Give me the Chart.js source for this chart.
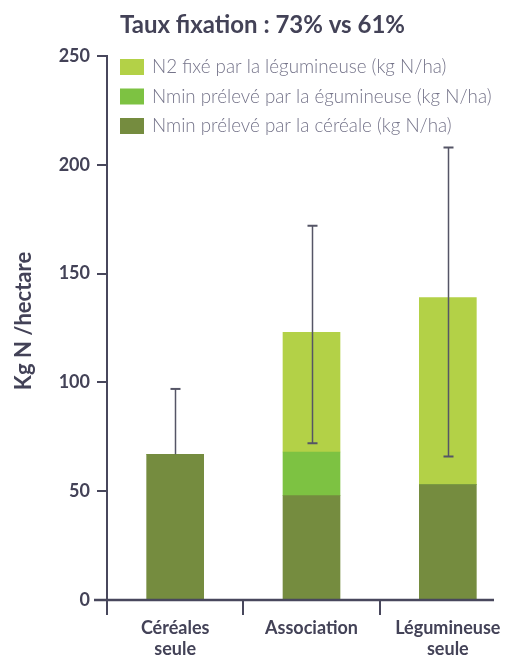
<!DOCTYPE html>
<html>
<head>
<meta charset="utf-8">
<script src="https://cdn.jsdelivr.net/npm/chart.js@4.4.1/dist/chart.umd.min.js"></script>
<style>
    html, body { margin: 0; padding: 0; overflow: hidden; background: #ffffff; }
    #wrap { width: 516px; height: 657px; position: relative; }
</style>
</head>
<body>
<div id="wrap"><canvas id="chart"></canvas></div>
<script>
// Data
const categories = [['Céréales', 'seule'], 'Association', ['Légumineuse', 'seule']];
const nminCereale = [67, 48, 53];
const nminLegumineuse = [0, 20, 0];
const n2Fixe = [0, 55, 86];
const errHigh = [97, 172, 208];
const errLow = [null, 72, 66];
const yTicks = [0, 50, 100, 150, 200, 250];
const seriesLabels = [
    'Nmin prélevé par la céréale (kg N/ha)',
    'Nmin prélevé par la égumineuse (kg N/ha)',
    'N2 fixé par la légumineuse (kg N/ha)'
];
const titleText = 'Taux fixation : 73% vs 61%';
const yTitle = 'Kg N /hectare';

// Colors
const colors = {
    dark: '#758c3f',
    mid: '#7dc242',
    light: '#b3d147',
    axis: '#48475c',
    text: '#434257',
    legendText: '#75748a',
    err: '#555566'
};
const fontFamily = 'Lato, "Open Sans", sans-serif';

// Custom drawing: error bars, title, axis title, legend
const customDraw = {
    id: 'customDraw',
    afterDatasetsDraw(chart) {
        const ctx = chart.ctx;
        const x = chart.scales.x;
        const y = chart.scales.y;
        ctx.save();
        ctx.strokeStyle = colors.err;
        errHigh.forEach((hi, i) => {
            const total = nminCereale[i] + nminLegumineuse[i] + n2Fixe[i];
            const cx = Math.round(x.getPixelForValue(i)) + 0.5;
            const yHi = y.getPixelForValue(hi);
            const yLo = y.getPixelForValue(errLow[i] !== null ? errLow[i] : total);
            ctx.lineWidth = 1.5;
            ctx.beginPath();
            ctx.moveTo(cx, yLo);
            ctx.lineTo(cx, yHi);
            ctx.stroke();
            ctx.lineWidth = 2;
            ctx.beginPath();
            ctx.moveTo(cx - 5, yHi);
            ctx.lineTo(cx + 5, yHi);
            if (errLow[i] !== null) {
                ctx.moveTo(cx - 5, yLo);
                ctx.lineTo(cx + 5, yLo);
            }
            ctx.stroke();
        });
        ctx.restore();
    },
    afterDraw(chart) {
        const ctx = chart.ctx;
        const area = chart.chartArea;
        ctx.save();

        // x axis line
        ctx.strokeStyle = colors.axis;
        ctx.lineWidth = 2.5;
        ctx.beginPath();
        ctx.moveTo(94, area.bottom);
        ctx.lineTo(494, area.bottom);
        ctx.stroke();

        // title
        ctx.fillStyle = colors.text;
        ctx.font = 'bold 24px ' + fontFamily;
        ctx.textAlign = 'left';
        ctx.textBaseline = 'alphabetic';
        ctx.fillText(titleText, 120, 33);

        // y axis title
        ctx.save();
        ctx.translate(24, 321);
        ctx.rotate(-Math.PI / 2);
        ctx.font = 'bold 22px ' + fontFamily;
        ctx.textAlign = 'center';
        ctx.textBaseline = 'middle';
        ctx.fillText(yTitle, 0, 0);
        ctx.restore();

        // legend (reverse order, top = last dataset)
        const legendColors = [colors.dark, colors.mid, colors.light];
        ctx.font = '300 18.8px ' + fontFamily;
        ctx.textBaseline = 'middle';
        for (let k = 0; k < 3; k++) {
            const idx = 2 - k;
            const top = 59 + k * 29.5;
            ctx.fillStyle = legendColors[idx];
            ctx.fillRect(120, top, 24, 16);
            ctx.fillStyle = colors.legendText;
            ctx.fillText(seriesLabels[idx], 152, top + 8);
        }
        ctx.restore();
    }
};

new Chart(document.getElementById('chart'), {
    type: 'bar',
    data: {
        labels: categories,
        datasets: [
            { label: seriesLabels[0], data: nminCereale, backgroundColor: colors.dark },
            { label: seriesLabels[1], data: nminLegumineuse, backgroundColor: colors.mid },
            { label: seriesLabels[2], data: n2Fixe, backgroundColor: colors.light }
        ]
    },
    options: {
        responsive: true,
        maintainAspectRatio: false,
        animation: false,
        layout: { padding: { top: 56, left: 0, right: 0, bottom: 0 } },
        datasets: { bar: { barThickness: 57, borderWidth: 0 } },
        plugins: {
            legend: { display: false },
            title: { display: false },
            tooltip: { enabled: false }
        },
        scales: {
            x: {
                stacked: true,
                afterFit(scale) { scale.height = 57; },
                border: { display: false },
                grid: {
                    offset: true,
                    drawOnChartArea: false,
                    drawTicks: true,
                    tickLength: 15,
                    color: colors.axis,
                    lineWidth: 2
                },
                ticks: {
                    color: colors.text,
                    padding: 2,
                    font: { family: fontFamily, size: 18, weight: 'bold', lineHeight: 1.2 }
                }
            },
            y: {
                stacked: true,
                min: yTicks[0],
                max: yTicks[yTicks.length - 1],
                afterFit(scale) { scale.width = 107; },
                border: { display: true, color: colors.axis, width: 2 },
                grid: {
                    drawOnChartArea: false,
                    drawTicks: true,
                    tickLength: 10,
                    color: colors.axis,
                    lineWidth: 2
                },
                ticks: {
                    stepSize: 50,
                    color: colors.text,
                    padding: 7,
                    font: { family: fontFamily, size: 18, weight: 'bold' }
                }
            }
        }
    },
    plugins: [customDraw]
});
</script>
</body>
</html>
